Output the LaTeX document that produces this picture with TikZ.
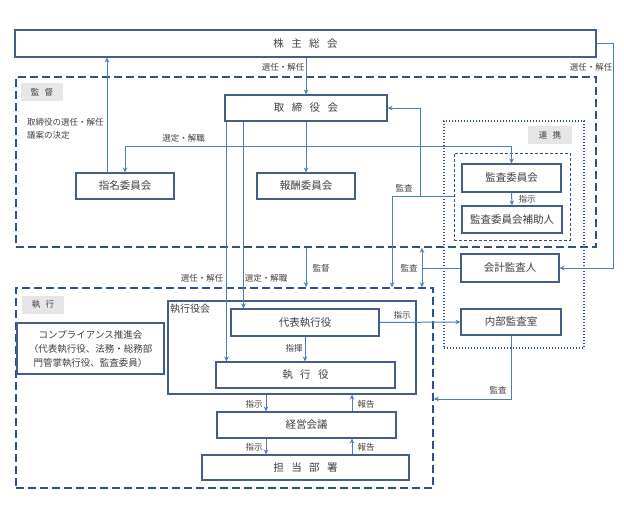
\documentclass[tikz,border=0pt]{standalone}
\usepackage{fontspec}
\setmainfont{Noto Sans CJK JP}
\usetikzlibrary{arrows.meta, positioning}
\definecolor{boxline}{RGB}{68,94,138}
\definecolor{arrline}{RGB}{74,126,193}
\definecolor{frameline}{RGB}{47,82,143}
\definecolor{txtgray}{RGB}{64,64,64}
\definecolor{taggray}{RGB}{231,230,230}
\newcommand{\jgap}{\hspace{0.7em}}

\begin{document}
\begin{tikzpicture}[
    x=1pt, y=-1pt,
    box/.style={draw=boxline, line width=1.1pt, fill=white, inner sep=0pt,
                font=\fontsize{10.5}{12}\selectfont, text=txtgray},
    frame/.style={draw=frameline, line width=1.6pt, dash pattern=on 8pt off 4pt, inner sep=0pt},
    tag/.style={fill=taggray, inner sep=0pt, minimum width=42pt, minimum height=18pt,
                font=\fontsize{8.5}{10}\selectfont, text=txtgray},
    arr/.style={draw=arrline, line width=1pt, -{Stealth[length=5pt, width=4.5pt]}},
    lbl/.style={font=\fontsize{8.5}{10}\selectfont, text=txtgray, inner sep=1pt},
]
  \useasboundingbox (0,0) rectangle (624,509);

  % ---- Frames ----
  \node[frame, minimum width=580pt, minimum height=170pt] (kt) at (306,162) {};
  \node[frame, minimum width=417pt, minimum height=200pt] (ex) at (224.5,388) {};
  \node[draw=frameline, line width=1.3pt, dash pattern=on 1.3pt off 1.7pt,
        minimum width=140pt, minimum height=227pt, inner sep=0pt] (rk) at (514,234.5) {};
  \node[draw=frameline, line width=1pt, dash pattern=on 3pt off 2pt,
        minimum width=116pt, minimum height=87pt, inner sep=0pt] (acf) at (512,196.5) {};

  \node[tag] (kttag) at (42,92) {監\hspace{0.6em}督};
  \node[tag] (extag) at (43,304.5) {執\hspace{0.6em}行};
  \node[tag, minimum width=44pt] (rktag) at (550,135) {連\hspace{0.6em}携};

  % ---- Boxes ----
  \node[box, minimum width=581pt, minimum height=27pt] (gm) at (305.5,43.5)
    {株\jgap 主\jgap 総\jgap 会};
  \node[box, minimum width=162pt, minimum height=26pt] (bod) at (306,108)
    {取\jgap 締\jgap 役\jgap 会};
  \node[box, minimum width=98pt, minimum height=26pt] (nom) at (125,186) {指名委員会};
  \node[box, minimum width=98pt, minimum height=26pt] (rem) at (306,186) {報酬委員会};
  \node[box, minimum width=99pt, minimum height=28pt] (ac) at (511.5,178) {監査委員会};
  \node[box, minimum width=100pt, minimum height=27pt] (acs) at (512,219.5) {監査委員会補助人};
  \node[box, minimum width=98pt, minimum height=28pt] (ea) at (510,268) {会計監査人};
  \node[box, minimum width=100pt, minimum height=26pt] (ia) at (511,322) {内部監査室};

  \node[box, minimum width=147pt, minimum height=51pt, align=center,
        font=\fontsize{9.5}{14}\selectfont] (comp) at (90.5,348.5)
    {コンプライアンス推進会\\（代表執行役、法務・総務部\\門管掌執行役、監査委員）};

  \node[box, minimum width=248pt, minimum height=93pt] (ec) at (292,347.5) {};
  \node[lbl, anchor=north west, font=\fontsize{10}{12}\selectfont] (eclbl) at (169,303) {執行役会};
  \node[box, minimum width=148pt, minimum height=27pt] (ceo) at (305,322.5) {代表執行役};
  \node[box, minimum width=179pt, minimum height=26pt] (eo) at (305.5,375)
    {執\jgap 行\jgap 役};
  \node[box, minimum width=179pt, minimum height=26pt] (mc) at (306.5,425) {経営会議};
  \node[box, minimum width=207pt, minimum height=25pt] (dept) at (305.5,467.5)
    {担\jgap 当\jgap 部\jgap 署};

  % ---- Connectors ----
  \draw[arr] (gm.south -| bod.north) -- (bod.north);
  \node[lbl] at (283,67) {選任・解任};

  \draw[arr] (gm.east) -- ++(17,0) |- (ea.east);
  \node[lbl] at (591,67) {選任・解任};

  \draw[arr] ([xshift=-18pt]nom.north) -- ([xshift=-18pt]nom.north |- gm.south);
  \node[lbl, anchor=north west, align=left, font=\fontsize{8.5}{13}\selectfont] at (26,117)
    {取締役の選任・解任\\議案の決定};

  \draw[arr] (bod.south) -- (rem.north);
  \coordinate (selj) at (306,146);
  \draw[arr] (selj) -| (nom.north);
  \draw[arr] (selj) -| (ac.north);
  \node[lbl] at (183.5,138) {選定・解職};

  \draw[arr] (ac.south) -- (acs.north);
  \node[lbl] at (527,199) {指示};

  \draw[arr] (acf.west) -- ++(-33,0) |- (bod.east);
  \draw[arr] (acf.west) -| (ex.north -| 392,0);
  \node[lbl] at (404,188) {監査};

  \coordinate (eaj) at (422,268);
  \draw[draw=arrline, line width=1pt] (ea.west) -- (eaj);
  \draw[arr, {Stealth[length=5pt, width=4.5pt]}-{Stealth[length=5pt, width=4.5pt]}]
    (kt.south -| eaj) -- (ex.north -| eaj);
  \node[lbl] at (409,268) {監査};

  \draw[arr] (kt.south) -- (kt.south |- ex.north);
  \node[lbl] at (321,268) {監督};

  \draw[arr] ([xshift=2pt]bod.south west) -- ([xshift=2pt]bod.south west |- eo.north);
  \node[lbl] at (202,278) {選任・解任};
  \draw[arr] ([xshift=19pt]bod.south west) -- ([xshift=19pt]bod.south west |- ceo.north);
  \node[lbl] at (266,278) {選定・解職};

  \draw[arr] (ceo.south) -- (ceo.south |- eo.north);
  \node[lbl] at (294,348) {指揮};

  \draw[arr] (ceo.east) -- (ia.west);
  \node[lbl] at (402,315) {指示};

  \draw[arr] (ia.south) |- ([yshift=-11pt]ex.east);
  \node[lbl] at (498,390) {監査};

  \draw[arr] (ec.south -| 266,0) -- (mc.north -| 266,0);
  \node[lbl] at (254,404) {指示};
  \draw[arr] (mc.north -| 352,0) -- (ec.south -| 352,0);
  \node[lbl] at (366,404) {報告};

  \draw[arr] (mc.south -| 266,0) -- (dept.north -| 266,0);
  \node[lbl] at (254,447) {指示};
  \draw[arr] (dept.north -| 352,0) -- (mc.south -| 352,0);
  \node[lbl] at (366,447) {報告};

\end{tikzpicture}
\end{document}
